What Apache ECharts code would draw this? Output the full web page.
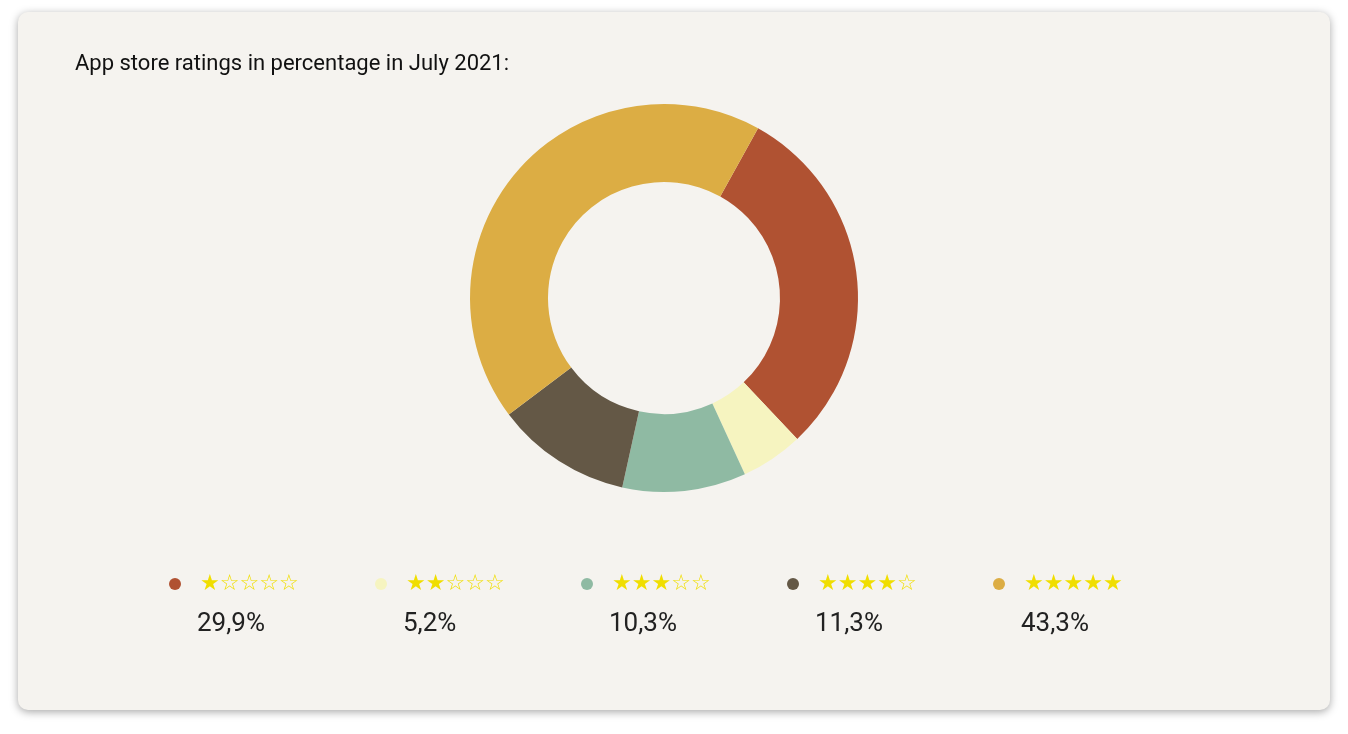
<!DOCTYPE html>
<html>
<head>
<meta charset="utf-8">
<script src="https://cdn.jsdelivr.net/npm/echarts@6/dist/echarts.min.js"></script>
<style>
  html, body { margin: 0; padding: 0; background: #ffffff; }
  #card {
    position: absolute; left: 18px; top: 12px; width: 1312px; height: 698px;
    background: #f5f3ef; border-radius: 10px;
    box-shadow: 0 2px 8px rgba(0,0,0,0.35);
  }
  #chart { position: absolute; left: 0; top: 0; width: 1348px; height: 734px; }
</style>
</head>
<body>
<div id="card"></div>
<div id="chart"></div>
<script>
  // Data
  const ratings = ['1 star', '2 stars', '3 stars', '4 stars', '5 stars'];
  const starLabels = ['★☆☆☆☆', '★★☆☆☆', '★★★☆☆', '★★★★☆', '★★★★★'];
  const shares = [29.9, 5.2, 10.3, 11.3, 43.3];
  const shareLabels = ['29,9%', '5,2%', '10,3%', '11,3%', '43,3%'];
  const colors = ['#b05232', '#f6f4c0', '#8fbaa3', '#645846', '#dcad44'];

  var myChart = echarts.init(document.getElementById('chart'));

  // One legend per rating so they can sit in a fixed row
  const legends = ratings.map((name, i) => ({
    data: [name],
    left: 164 + i * 206,
    top: 568,
    icon: 'circle',
    itemWidth: 12,
    itemHeight: 12,
    selectedMode: false,
    formatter: () => '{s|' + starLabels[i] + '}',
    textStyle: {
      rich: {
        s: { fontSize: 22, color: '#f0de00', padding: [0, 0, 0, 14], fontFamily: 'DejaVu Sans' }
      }
    }
  }));

  const percentTexts = shareLabels.map((t, i) => ({
    type: 'text',
    left: 197 + i * 206,
    top: 611,
    style: { text: t, fontSize: 26, fill: '#222', fontFamily: 'Roboto' }
  }));

  var option = {
    animation: false,
    title: {
      text: 'App store ratings in percentage in July 2021:',
      left: 70,
      top: 48,
      textStyle: { fontFamily: 'Roboto', fontWeight: 'normal', fontSize: 22, color: '#111' }
    },
    legend: legends,
    graphic: percentTexts,
    series: [{
      type: 'pie',
      center: [664, 298],
      radius: [116, 194],
      startAngle: 61,
      clockwise: true,
      label: { show: false },
      labelLine: { show: false },
      silent: true,
      data: ratings.map((name, i) => ({ name: name, value: shares[i], itemStyle: { color: colors[i] } }))
    }]
  };

  myChart.setOption(option);
  window.addEventListener('resize', myChart.resize);
</script>
</body>
</html>
